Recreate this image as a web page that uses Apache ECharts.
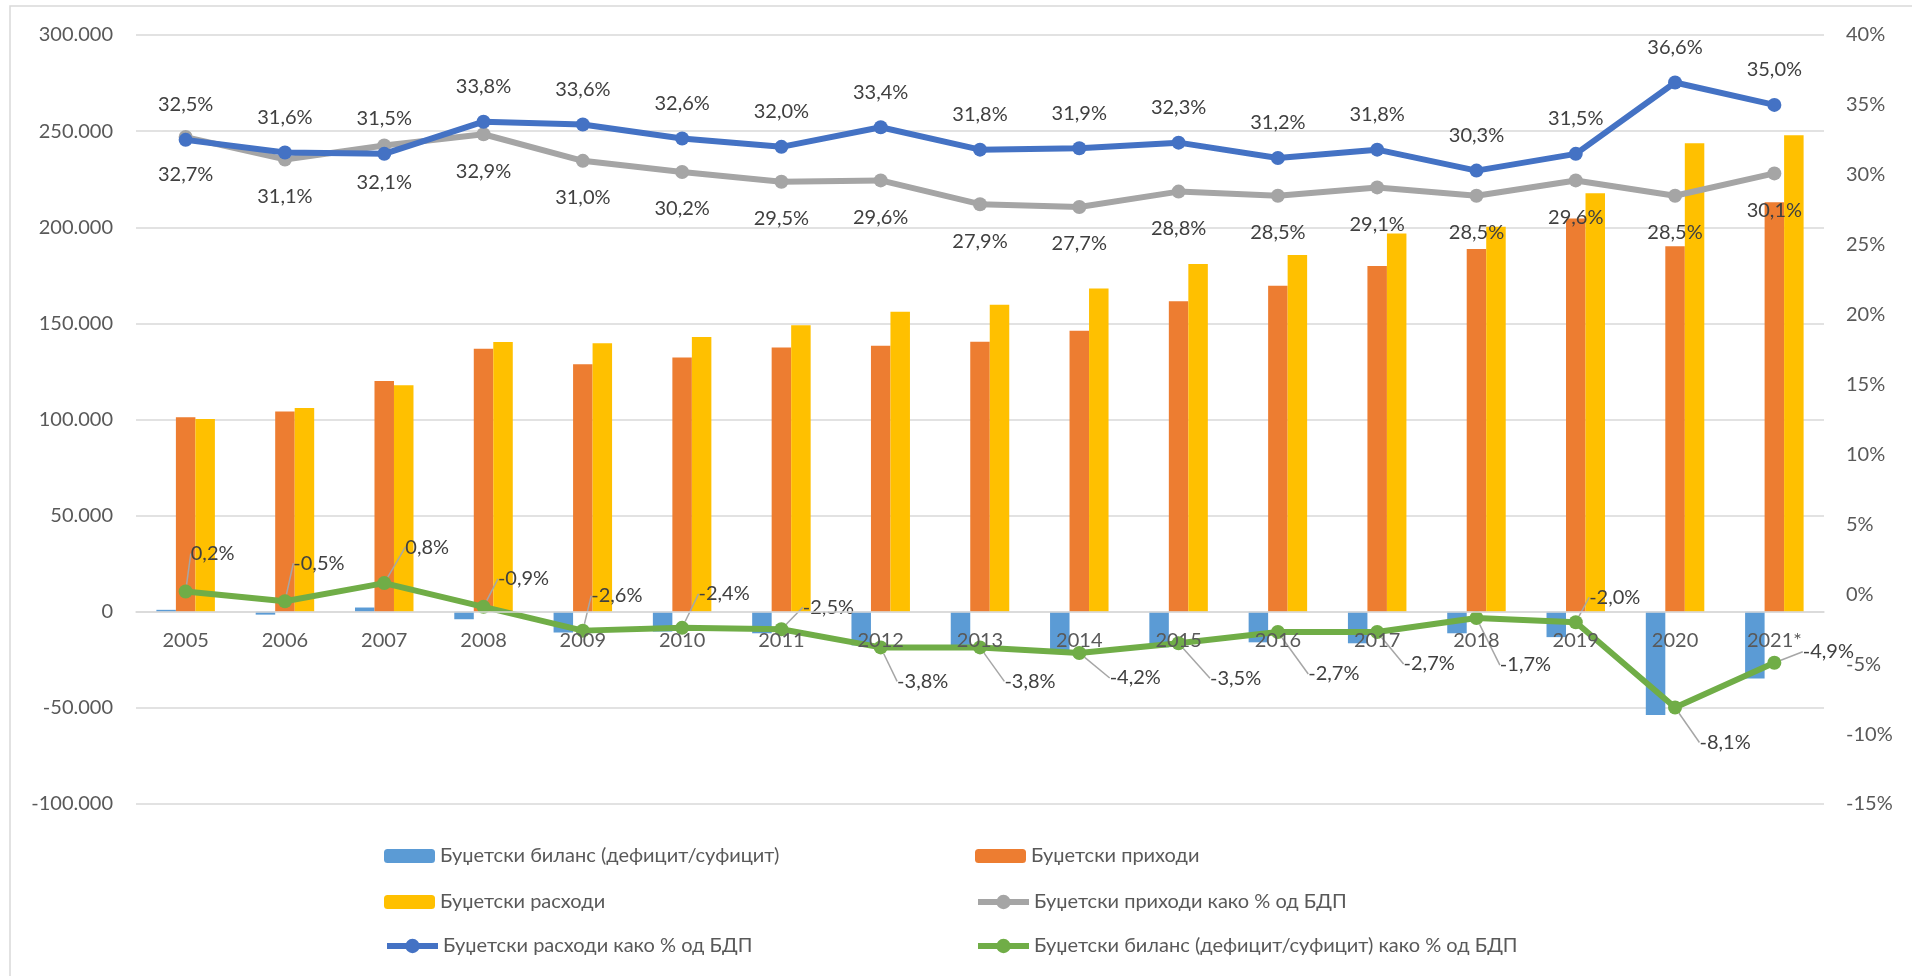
<!DOCTYPE html>
<html>
<head>
<meta charset="utf-8">
<script src="https://cdn.jsdelivr.net/npm/echarts@6/dist/echarts.min.js"></script>
<style>
  html, body { margin: 0; padding: 0; background: #fff; }
  #chart { width: 1912px; height: 976px; }
</style>
</head>
<body>
<div id="chart"></div>
<script>
// categories
const years = ['2005', '2006', '2007', '2008', '2009', '2010', '2011', '2012', '2013',
  '2014', '2015', '2016', '2017', '2018', '2019', '2020', '2021*'];

// amounts (left axis)
const balance = [1000, -1500, 2200, -3900, -10800, -10300, -11200, -17500, -18500,
  -20000, -18500, -15900, -16400, -11200, -13200, -53700, -34700];
const revenue = [101200, 104200, 120000, 136800, 128700, 132300, 137400, 138400, 140500,
  146200, 161500, 169600, 179900, 188700, 204500, 190100, 213000];
const expenditure = [100300, 106000, 117800, 140300, 139600, 142900, 149000, 156100, 159700,
  168100, 180900, 185600, 196800, 200300, 217700, 243700, 247800];

// shares of GDP (right axis)
const revenuePct = [32.7, 31.1, 32.1, 32.9, 31.0, 30.2, 29.5, 29.6, 27.9,
  27.7, 28.8, 28.5, 29.1, 28.5, 29.6, 28.5, 30.1];
const expenditurePct = [32.5, 31.6, 31.5, 33.8, 33.6, 32.6, 32.0, 33.4, 31.8,
  31.9, 32.3, 31.2, 31.8, 30.3, 31.5, 36.6, 35.0];
const balancePct = [0.2, -0.5, 0.8, -0.9, -2.6, -2.4, -2.5, -3.8, -3.8,
  -4.2, -3.5, -2.7, -2.7, -1.7, -2.0, -8.1, -4.9];

// axis ticks
const leftTicks = { min: -100000, max: 300000, interval: 50000 };
const rightTicks = { min: -15, max: 40, interval: 5 };

const names = [
  'Буџетски биланс (дефицит/суфицит)',
  'Буџетски приходи',
  'Буџетски расходи',
  'Буџетски приходи како % од БДП',
  'Буџетски расходи како % од БДП',
  'Буџетски биланс (дефицит/суфицит) како % од БДП'
];
const seriesColors = ['#5B9BD5', '#ED7D31', '#FFC000', '#A5A5A5', '#4472C4', '#70AD47'];

// where the green labels sit relative to their points (like Excel's dragged labels)
const greenLabelShift = [
  [27, -38], [34, -38], [43, -36], [40, -28], [34, -35], [42, -34], [47, -22],
  [42, 34], [50, 34], [56, 25], [57, 35], [56, 42], [52, 32], [49, 47],
  [39, -25], [50, 35], [54, -11]
];

const FONT = 'Lato, "Open Sans", sans-serif';
const TEXT = '#595959';
const LABEL = '#404040';
const GRID = '#D9D9D9';

const pct = v => v.toFixed(1).replace('.', ',') + '%';
const thousands = v => {
  const s = String(Math.abs(v)).replace(/\B(?=(\d{3})+(?!\d))/g, '.');
  return (v < 0 ? '-' : '') + s;
};

const chart = echarts.init(document.getElementById('chart'), null, { renderer: 'canvas' });

const gridTop = 35, gridBottom = 172;
const plotHeight = 976 - gridTop - gridBottom;
// x axis sits on the zero line of the left axis
const zeroOffset = -plotHeight * (0 - leftTicks.min) / (leftTicks.max - leftTicks.min);

const legendPos = [
  [379, 841], [970, 841],
  [379, 887], [970, 887],
  [379, 931], [970, 931]
];

const option = {
  animation: false,
  textStyle: { fontFamily: FONT },
  graphic: [{
    type: 'rect',
    shape: { x: 10, y: 6, width: 1920, height: 1000 },
    style: { fill: 'none', stroke: GRID, lineWidth: 1.5 },
    silent: true
  }],
  legend: names.map((n, i) => ({
    data: [i < 3 ? n : {
      name: n,
      lineStyle: { width: 6, color: seriesColors[i] },
      itemStyle: { color: seriesColors[i] }
    }],
    left: legendPos[i][0],
    top: legendPos[i][1],
    itemWidth: 51,
    itemHeight: i < 3 ? 14 : 18,
    selectedMode: false,
    textStyle: { color: TEXT, fontSize: 20, fontFamily: FONT }
  })),
  grid: { left: 136, right: 88, top: gridTop, bottom: gridBottom, containLabel: false },
  xAxis: {
    type: 'category',
    data: years,
    offset: zeroOffset,
    z: 10,
    axisTick: { show: false },
    axisLine: { onZero: false, lineStyle: { color: GRID, width: 1.5 } },
    axisLabel: { color: TEXT, fontSize: 20, margin: 19, fontFamily: FONT }
  },
  yAxis: [{
    type: 'value',
    min: leftTicks.min, max: leftTicks.max, interval: leftTicks.interval,
    axisLine: { show: false },
    axisTick: { show: false },
    splitLine: { lineStyle: { color: GRID, width: 1.5 } },
    axisLabel: { color: TEXT, fontSize: 20, margin: 23, formatter: thousands, fontFamily: FONT }
  }, {
    type: 'value',
    position: 'right',
    min: rightTicks.min, max: rightTicks.max, interval: rightTicks.interval,
    axisLine: { show: false },
    axisTick: { show: false },
    splitLine: { show: false },
    axisLabel: { color: TEXT, fontSize: 20, margin: 22, formatter: v => v + '%', fontFamily: FONT }
  }],
  series: [{
    name: names[0], type: 'bar', data: balance,
    barWidth: 19.5, barGap: '0%',
    itemStyle: { color: seriesColors[0] }
  }, {
    name: names[1], type: 'bar', data: revenue,
    barWidth: 19.5, barGap: '0%',
    itemStyle: { color: seriesColors[1] }
  }, {
    name: names[2], type: 'bar', data: expenditure,
    barWidth: 19.5, barGap: '0%',
    itemStyle: { color: seriesColors[2] }
  }, {
    name: names[3], type: 'line', yAxisIndex: 1, data: revenuePct,
    symbol: 'circle', symbolSize: 14,
    itemStyle: { color: seriesColors[3] },
    lineStyle: { color: seriesColors[3], width: 6 },
    label: {
      show: true, position: 'bottom', distance: 20,
      color: LABEL, fontSize: 20, fontFamily: FONT,
      formatter: p => pct(p.value)
    },
    z: 3
  }, {
    name: names[4], type: 'line', yAxisIndex: 1, data: expenditurePct,
    symbol: 'circle', symbolSize: 14,
    itemStyle: { color: seriesColors[4] },
    lineStyle: { color: seriesColors[4], width: 6 },
    label: {
      show: true, position: 'top', distance: 18,
      color: LABEL, fontSize: 20, fontFamily: FONT,
      formatter: p => pct(p.value)
    },
    z: 4
  }, {
    name: names[5], type: 'line', yAxisIndex: 1, data: balancePct,
    symbol: 'circle', symbolSize: 14,
    itemStyle: { color: seriesColors[5] },
    lineStyle: { color: seriesColors[5], width: 6 },
    label: {
      show: true, position: 'inside',
      color: LABEL, fontSize: 20, fontFamily: FONT,
      formatter: p => pct(p.value)
    },
    labelLine: { show: true, lineStyle: { color: '#A6A6A6', width: 1.5 } },
    labelLayout: p => ({ dx: greenLabelShift[p.dataIndex][0], dy: greenLabelShift[p.dataIndex][1] }),
    z: 5
  }]
};

chart.setOption(option);
</script>
</body>
</html>
